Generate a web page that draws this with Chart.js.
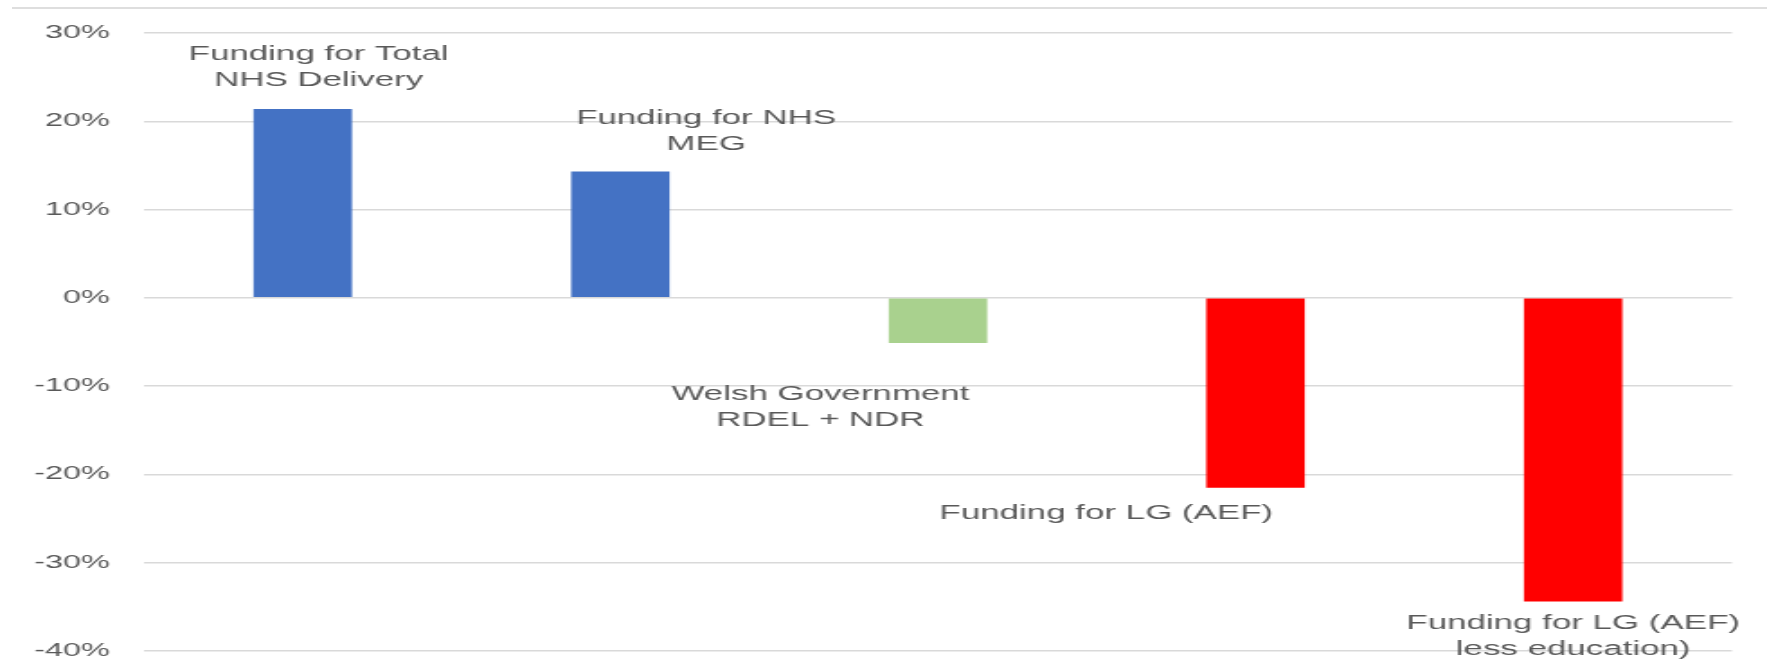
<!DOCTYPE html>
<html>
<head>
<meta charset="utf-8">
<script src="https://cdn.jsdelivr.net/npm/chart.js@4.4.1/dist/chart.umd.min.js"></script>
<style>
    html, body { margin: 0; padding: 0; background: #ffffff; overflow: hidden; }
    /* linea del marco superior del grafico original */
    #marco { position: absolute; left: 12px; right: 0; top: 7px; height: 0; border-top: 2px solid #dedede; }
    /* el original esta estirado a lo ancho, lo imitamos con scaleX */
    #contenedor { position: absolute; left: 0; top: 0; width: 982px; height: 671px; transform: scaleX(1.7994); transform-origin: 0 0; }
    #GraficoBarras { display: block; }
</style>
</head>
<body>
<div id="marco"></div>
<div id="contenedor"><canvas id="GraficoBarras" width="982" height="671"></canvas></div>
<script>
// datos del grafico
const categorias = [
    ["Funding for Total", "NHS Delivery"],
    ["Funding for NHS", "MEG"],
    ["Welsh Government", "RDEL + NDR"],
    ["Funding for LG (AEF)"],
    ["Funding for LG (AEF)", "less education)"]
];
const valores = [21.4, 14.3, -5.1, -21.5, -34.4];
const ejeMin = -40;
const ejeMax = 30;
const ejePaso = 10;

// colores de cada barra
const colores = ["#4472C4", "#4472C4", "#A9D18E", "#FF0000", "#FF0000"];

// donde va cada etiqueta respecto al extremo de su barra
// dx en anchos de categoria, dy en pixeles
const posEtiquetas = [
    { dx: 0.05, dy: -41 },
    { dx: 0.27, dy: -40 },
    { dx: -0.37, dy: 65 },
    { dx: -0.47, dy: 26 },
    { dx: 0.0, dy: 35 }
];

const colorTexto = "#595959";
const fuente = '"Liberation Sans", Arial, sans-serif';

const pluginEtiquetas = {
    id: 'etiquetas',
    afterDatasetsDraw(chart) {
        const ctx = chart.ctx;
        const meta = chart.getDatasetMeta(0);
        const x = chart.scales.x;
        const anchoCategoria = x.getPixelForValue(1) - x.getPixelForValue(0);
        const altoLinea = 26;

        ctx.save();
        ctx.font = '19.4px ' + fuente;
        ctx.fillStyle = colorTexto;
        ctx.textAlign = 'center';
        ctx.textBaseline = 'middle';
        meta.data.forEach(function (barra, i) {
            let p = posEtiquetas[i];
            let cx = barra.x + p.dx * anchoCategoria;
            let cy = barra.y + p.dy;
            let lineas = categorias[i];
            let inicio = cy - (lineas.length - 1) * altoLinea / 2;
            lineas.forEach(function (linea, j) {
                ctx.fillText(linea, cx, inicio + j * altoLinea);
            });
        });
        ctx.restore();
    }
};

const ctx = document.getElementById('GraficoBarras');
new Chart(ctx, {
    type: 'bar',
    data: {
        labels: categorias.map(c => c.join(' ')),
        datasets: [{
            data: valores,
            backgroundColor: colores,
            borderWidth: 0,
            barPercentage: 0.31,
            categoryPercentage: 1.0
        }]
    },
    options: {
        responsive: false,
        animation: false,
        layout: {
            padding: { left: 0, right: 19.5, top: 33, bottom: 20 }
        },
        plugins: {
            legend: { display: false },
            tooltip: { enabled: false }
        },
        scales: {
            x: {
                display: false
            },
            y: {
                min: ejeMin,
                max: ejeMax,
                ticks: {
                    stepSize: ejePaso,
                    padding: 0,
                    color: colorTexto,
                    font: { family: fuente, size: 18 },
                    callback: function (v) { return v + '%'; }
                },
                // la separacion entre numeros y grafico la da una marca invisible
                grid: {
                    color: '#d9d9d9',
                    lineWidth: 1.5,
                    drawTicks: true,
                    tickLength: 19,
                    tickColor: 'rgba(0,0,0,0)'
                },
                border: { display: false },
                afterFit: function (escala) { escala.width = 80; }
            }
        }
    },
    plugins: [pluginEtiquetas]
});
</script>
</body>
</html>
